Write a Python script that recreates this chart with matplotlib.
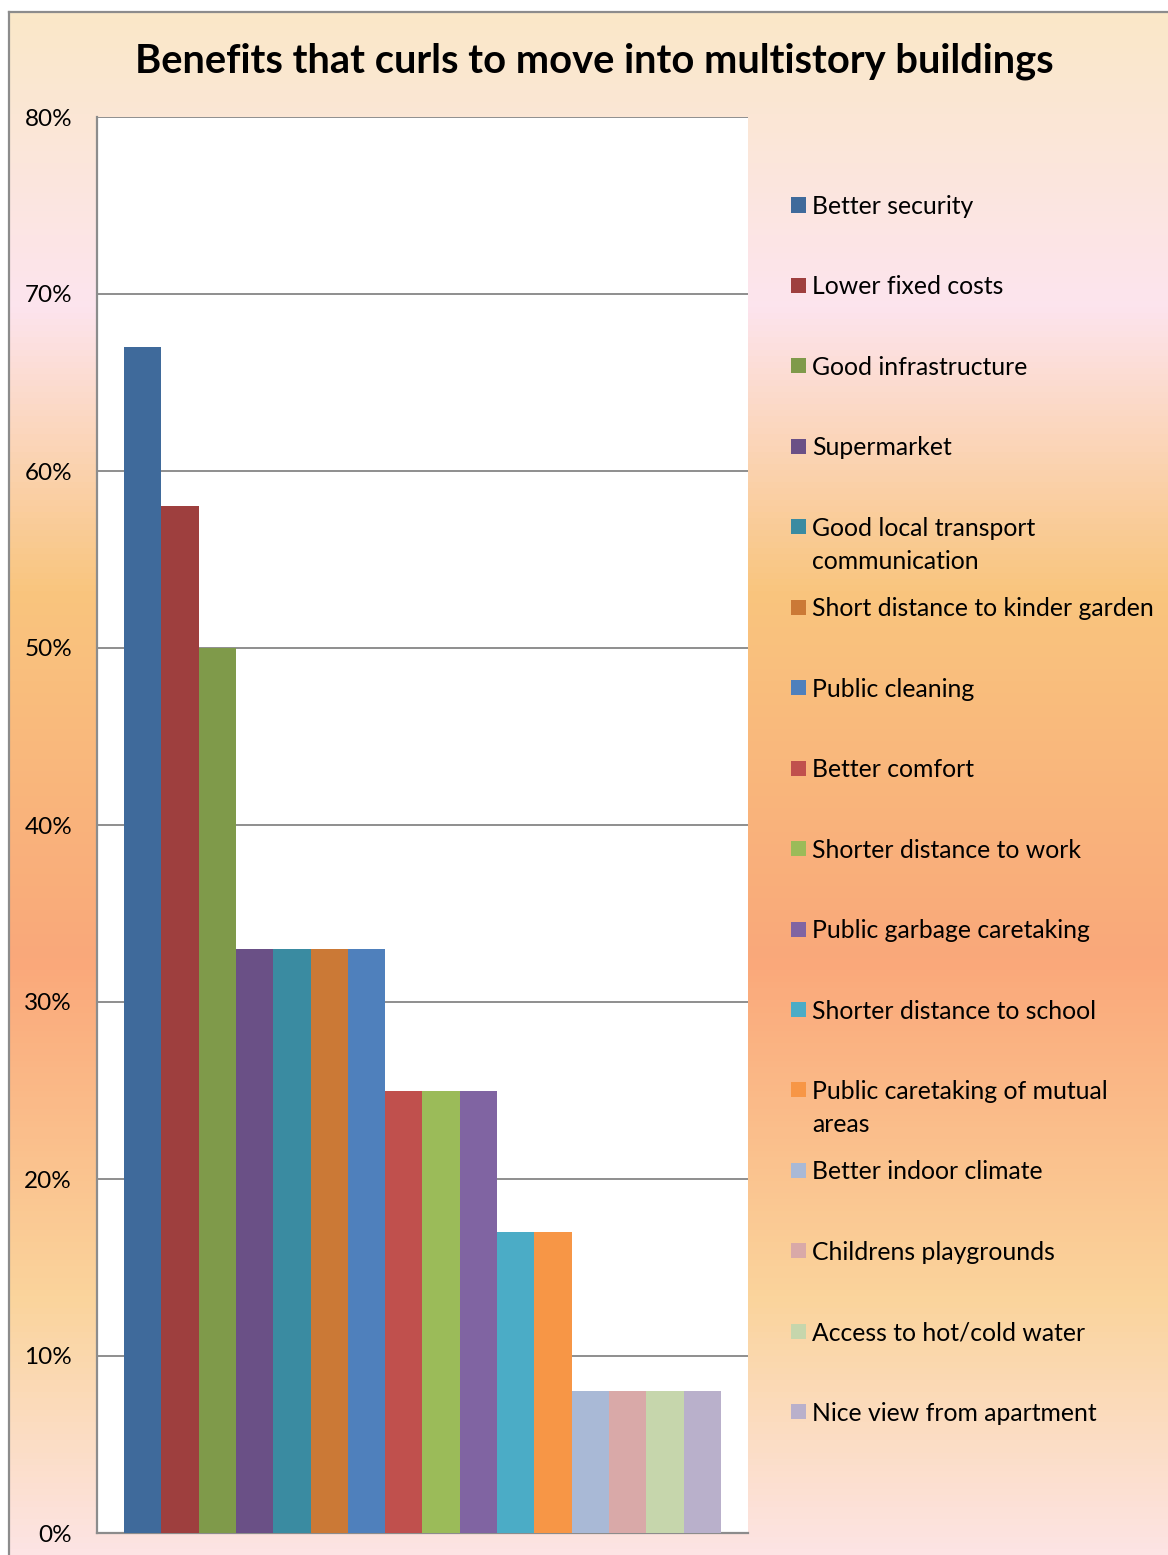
import numpy as np
import matplotlib
matplotlib.use("Agg")
import matplotlib.pyplot as plt
from matplotlib.colors import LinearSegmentedColormap
from matplotlib.patches import Rectangle
from matplotlib.ticker import FuncFormatter

plt.rcParams['font.family'] = ['Lato', 'DejaVu Sans']

title = "Benefits that curls to move into multistory buildings"

categories = [
    "Better security",
    "Lower fixed costs",
    "Good infrastructure",
    "Supermarket",
    "Good local transport\ncommunication",
    "Short distance to kinder garden",
    "Public cleaning",
    "Better comfort",
    "Shorter distance to work",
    "Public garbage caretaking",
    "Shorter distance to school",
    "Public caretaking of mutual\nareas",
    "Better indoor climate",
    "Childrens playgrounds",
    "Access to hot/cold water",
    "Nice view from apartment",
]

values = [67, 58, 50, 33, 33, 33, 33, 25, 25, 25, 17, 17, 8, 8, 8, 8]

colors = [
    "#3F6A9B", "#9E3F3E", "#7F9A4A", "#6A5086", "#3A8BA1", "#CB7936",
    "#4F80BC", "#C0504D", "#9BBB59", "#8064A2", "#4BACC6", "#F79646",
    "#A9B9D6", "#D9A9A8", "#C6D6AC", "#B9B0CB",
]

y_ticks = [0, 10, 20, 30, 40, 50, 60, 70, 80]

W, H = 1168, 1555
fig = plt.figure(figsize=(W / 100, H / 100), dpi=100)
fig.patch.set_facecolor("white")

# Background: vertical sunset-style gradient inside a thin gray frame
bg_left, bg_top = 9, 12
bg_ax = fig.add_axes([bg_left / W, 0, 1 - bg_left / W, 1 - bg_top / H])
bg_ax.set_axis_off()
grad = LinearSegmentedColormap.from_list(
    "sunset",
    [(0.00, "#FAE8C8"), (0.19, "#FDE4EE"), (0.375, "#F9C57E"),
     (0.615, "#FAA87A"), (0.835, "#FAD49C"), (1.00, "#FDE4E4")],
)
g = np.linspace(0, 1, 512).reshape(-1, 1)
bg_ax.imshow(g, aspect="auto", cmap=grad, extent=[0, 1, 0, 1], origin="upper")
bg_ax.set_xlim(0, 1)
bg_ax.set_ylim(0, 1)
fig.add_artist(plt.Line2D([bg_left / W, 1], [1 - bg_top / H] * 2,
                          color="#8C8C8C", lw=1.6, transform=fig.transFigure))
fig.add_artist(plt.Line2D([bg_left / W] * 2, [0, 1 - bg_top / H],
                          color="#8C8C8C", lw=1.6, transform=fig.transFigure))

# Plot area
px0, px1, py_top, py_bot = 97, 748, 117, 1533
ax = fig.add_axes([px0 / W, 1 - py_bot / H, (px1 - px0) / W, (py_bot - py_top) / H])
ax.set_facecolor("white")

n = len(values)
x = np.arange(n)
ax.bar(x, values, width=1.0, color=colors, linewidth=0, zorder=3)
gap = 0.724
ax.set_xlim(-0.5 - gap, n - 0.5 + gap)
ax.set_ylim(0, 80)
ax.set_yticks(y_ticks)
ax.yaxis.set_major_formatter(FuncFormatter(lambda v, p: f"{int(v)}%"))
ax.tick_params(axis="y", length=0, pad=18, labelsize=17.5)
ax.set_xticks([])
ax.grid(axis="y", color="#868686", lw=1.3, zorder=1)
for s in ("right", "top"):
    ax.spines[s].set_visible(False)
for s in ("left", "bottom"):
    ax.spines[s].set_color("#8C8C8C")
    ax.spines[s].set_linewidth(1.6)

# Title
fig.text(594 / W, 1 - 61 / H, title, ha="center", va="center",
         fontsize=28.7, fontweight="bold", color="black")

# Legend drawn as a column of swatches and labels
leg_y0, leg_dy = 205, 80.45
sw = 15
for i, (lab, c) in enumerate(zip(categories, colors)):
    yc = leg_y0 + i * leg_dy
    fig.patches.append(Rectangle((791 / W, 1 - (yc + sw / 2) / H), sw / W, sw / H,
                                 facecolor=c, edgecolor="none",
                                 transform=fig.transFigure))
    fig.text(812 / W, 1 - (yc - 10) / H, lab, ha="left", va="top",
             fontsize=17.8, color="black", linespacing=1.52)

fig.savefig("out.png", dpi=100)
